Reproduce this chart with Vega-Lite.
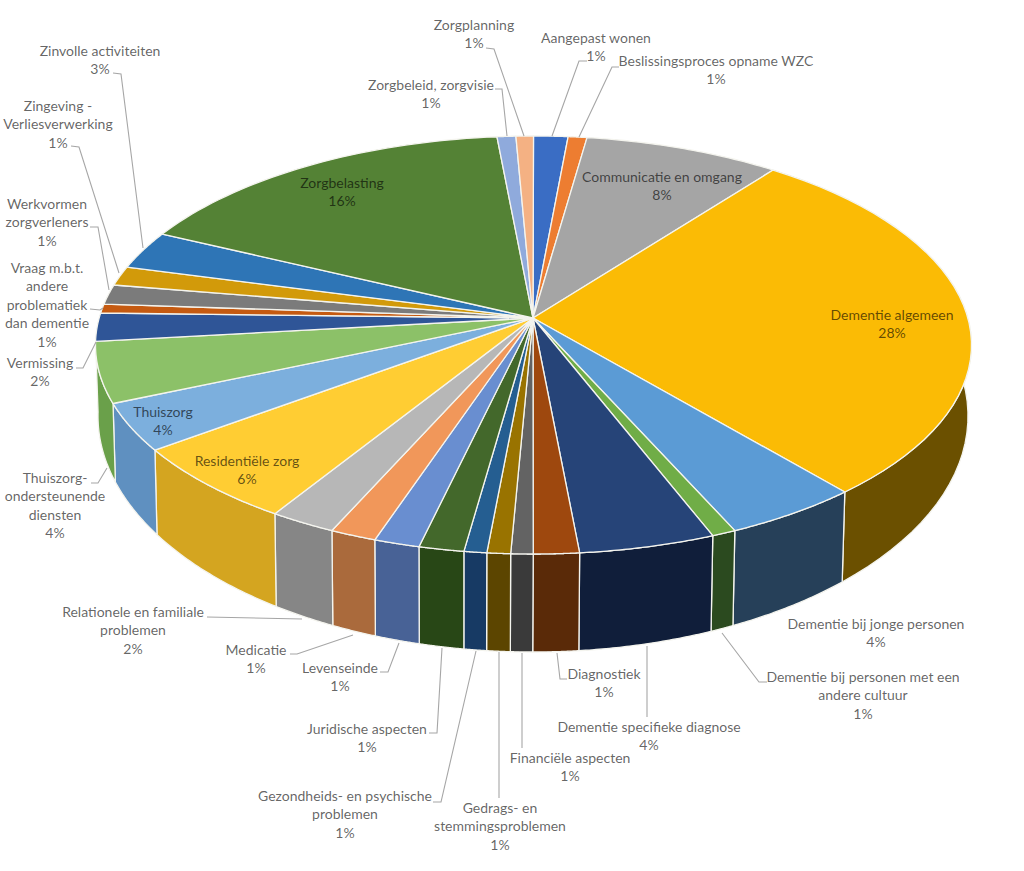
{
"$schema":"https://vega.github.io/schema/vega-lite/v6.json",
"width":1024,"height":871,"padding":0,"autosize":"none",
"background":"white",
"config":{"view":{"stroke":null}},
"datasets":{
"slices":[
{"idx":1,"name":"Aangepast wonen","value":1.26},
{"idx":2,"name":"Beslissingsproces opname WZC","value":0.69},
{"idx":3,"name":"Communicatie en omgang","value":7.26},
{"idx":4,"name":"Dementie algemeen","value":28.2},
{"idx":5,"name":"Dementie bij jonge personen","value":4.98},
{"idx":6,"name":"Dementie bij personen met een andere cultuur","value":0.89},
{"idx":7,"name":"Dementie specifieke diagnose","value":5.03},
{"idx":8,"name":"Diagnostiek","value":1.69},
{"idx":9,"name":"Financiële aspecten","value":0.82},
{"idx":10,"name":"Gedrags- en stemmingsproblemen","value":0.87},
{"idx":11,"name":"Gezondheids- en psychische problemen","value":0.84},
{"idx":12,"name":"Juridische aspecten","value":1.67},
{"idx":13,"name":"Levenseinde","value":1.69},
{"idx":14,"name":"Medicatie","value":1.71},
{"idx":15,"name":"Relationele en familiale problemen","value":2.44},
{"idx":16,"name":"Residentiële zorg","value":6.56},
{"idx":17,"name":"Thuiszorg","value":3.87},
{"idx":18,"name":"Thuiszorg-ondersteunende diensten","value":4.79},
{"idx":19,"name":"Vermissing","value":2.17},
{"idx":20,"name":"Vraag m.b.t. andere problematiek dan dementie","value":0.69},
{"idx":21,"name":"Werkvormen zorgverleners","value":1.5},
{"idx":22,"name":"Zingeving - Verliesverwerking","value":1.44},
{"idx":23,"name":"Zinvolle activiteiten","value":2.83},
{"idx":24,"name":"Zorgbelasting","value":14.76},
{"idx":25,"name":"Zorgbeleid, zorgvisie","value":0.69},
{"idx":26,"name":"Zorgplanning","value":0.64}
],
"labels":[
{"text":"Aangepast wonen\n1%","x":596,"y":43},
{"text":"Beslissingsproces opname WZC\n1%","x":716,"y":66},
{"text":"Communicatie en omgang\n8%","x":662,"y":182},
{"text":"Dementie algemeen\n28%","x":892,"y":320},
{"text":"Dementie bij jonge personen\n4%","x":876,"y":629},
{"text":"Dementie bij personen met een\nandere cultuur\n1%","x":863,"y":682},
{"text":"Dementie specifieke diagnose\n4%","x":649,"y":732},
{"text":"Diagnostiek\n1%","x":604,"y":679},
{"text":"Financiële aspecten\n1%","x":570,"y":763},
{"text":"Gedrags- en\nstemmingsproblemen\n1%","x":500,"y":813},
{"text":"Gezondheids- en psychische\nproblemen\n1%","x":345,"y":801},
{"text":"Juridische aspecten\n1%","x":367,"y":734},
{"text":"Levenseinde\n1%","x":340,"y":673},
{"text":"Medicatie\n1%","x":256,"y":655},
{"text":"Relationele en familiale\nproblemen\n2%","x":133,"y":617},
{"text":"Residentiële zorg\n6%","x":247,"y":466},
{"text":"Thuiszorg\n4%","x":163,"y":417},
{"text":"Thuiszorg-\nondersteunende\ndiensten\n4%","x":55,"y":483},
{"text":"Vermissing\n2%","x":40,"y":368},
{"text":"Vraag m.b.t.\nandere\nproblematiek\ndan dementie\n1%","x":47,"y":273},
{"text":"Werkvormen\nzorgverleners\n1%","x":47,"y":209},
{"text":"Zingeving -\nVerliesverwerking\n1%","x":58,"y":111},
{"text":"Zinvolle activiteiten\n3%","x":100,"y":56},
{"text":"Zorgbelasting\n16%","x":342,"y":188},
{"text":"Zorgbeleid, zorgvisie\n1%","x":431,"y":90},
{"text":"Zorgplanning\n1%","x":474,"y":30}
],
"leaders":[
{"s":"a","o":1,"x":113,"y":73},{"s":"a","o":2,"x":121,"y":74},{"s":"a","o":3,"x":143,"y":248},
{"s":"b","o":1,"x":71,"y":146},{"s":"b","o":2,"x":79,"y":147},{"s":"b","o":3,"x":119,"y":273},
{"s":"c","o":1,"x":90,"y":227},{"s":"c","o":2,"x":98,"y":227},{"s":"c","o":3,"x":109,"y":290},
{"s":"d","o":1,"x":90,"y":309},{"s":"d","o":2,"x":100,"y":310},{"s":"d","o":3,"x":103,"y":308},
{"s":"e","o":1,"x":76,"y":368},{"s":"e","o":2,"x":83,"y":368},{"s":"e","o":3,"x":96,"y":342},
{"s":"f","o":1,"x":91,"y":483},{"s":"f","o":2,"x":98,"y":483},{"s":"f","o":3,"x":107,"y":468},
{"s":"g","o":1,"x":207,"y":617},{"s":"g","o":2,"x":302,"y":619},
{"s":"h","o":1,"x":290,"y":654},{"s":"h","o":2,"x":297,"y":654},{"s":"h","o":3,"x":353,"y":635},
{"s":"i","o":1,"x":380,"y":672},{"s":"i","o":2,"x":388,"y":672},{"s":"i","o":3,"x":399,"y":643},
{"s":"j","o":1,"x":429,"y":733},{"s":"j","o":2,"x":437,"y":733},{"s":"j","o":3,"x":442,"y":648},
{"s":"k","o":1,"x":433,"y":802},{"s":"k","o":2,"x":441,"y":802},{"s":"k","o":3,"x":476,"y":651},
{"s":"l","o":1,"x":499,"y":798},{"s":"l","o":2,"x":499,"y":652},
{"s":"m","o":1,"x":522,"y":748},{"s":"m","o":2,"x":522,"y":653},
{"s":"n","o":1,"x":567,"y":679},{"s":"n","o":2,"x":560,"y":679},{"s":"n","o":3,"x":557,"y":653},
{"s":"p","o":1,"x":647,"y":717},{"s":"p","o":2,"x":647,"y":646},
{"s":"q","o":1,"x":767,"y":682},{"s":"q","o":2,"x":759,"y":682},{"s":"q","o":3,"x":722,"y":633},
{"s":"r","o":1,"x":619,"y":67},{"s":"r","o":2,"x":612,"y":67},{"s":"r","o":3,"x":579,"y":137},
{"s":"t","o":1,"x":587,"y":61},{"s":"t","o":2,"x":579,"y":61},{"s":"t","o":3,"x":552,"y":136},
{"s":"u","o":1,"x":486,"y":48},{"s":"u","o":2,"x":494,"y":49},{"s":"u","o":3,"x":524,"y":136},
{"s":"v","o":1,"x":495,"y":89},{"s":"v","o":2,"x":502,"y":89},{"s":"v","o":3,"x":507,"y":136}
]
},
"layer":[
{
"data":{"name":"slices"},
"transform":[
{"joinaggregate":[{"op":"sum","field":"value","as":"total"}]},
{"window":[{"op":"sum","field":"value","as":"cum"}],"sort":[{"field":"idx"}]},
{"filter":"datum.cum/datum.total>0.2 && (datum.cum-datum.value)/datum.total<0.75"},
{"calculate":"sequence(0,84)","as":"k"},
{"flatten":["k"]},
{"calculate":"datum.k<=41 ? datum.k/40 : (82-datum.k)/40","as":"f"},
{"calculate":"2*PI*(datum.cum-datum.value+datum.value*min(datum.f,1))/datum.total","as":"u"},
{"calculate":"datum.k<=40 ? 533.5+438*sin(datum.u) : (datum.k>=83 ? 533.5+438*sin(2*PI*(datum.cum-datum.value)/datum.total) : 533+435*sin(datum.u))","as":"px"},
{"calculate":"datum.k<=40 ? 345-209*cos(datum.u) : (datum.k>=83 ? 345-209*cos(2*PI*(datum.cum-datum.value)/datum.total) : 416-236*cos(datum.u))","as":"py"}
],
"mark":{"type":"line","filled":true,"stroke":"#f4f4ee","strokeWidth":1.3,"strokeJoin":"round"},
"encoding":{
"x":{"field":"px","type":"quantitative","scale":{"domain":[0,1024],"nice":false,"zero":false},"axis":null},
"y":{"field":"py","type":"quantitative","scale":{"domain":[871,0],"nice":false,"zero":false},"axis":null},
"order":{"field":"k","type":"quantitative"},
"color":{"field":"name","type":"nominal","legend":null,"scale":{"domain":["Dementie algemeen","Dementie bij jonge personen","Dementie bij personen met een andere cultuur","Dementie specifieke diagnose","Diagnostiek","Financiële aspecten","Gedrags- en stemmingsproblemen","Gezondheids- en psychische problemen","Juridische aspecten","Levenseinde","Medicatie","Relationele en familiale problemen","Residentiële zorg","Thuiszorg","Thuiszorg-ondersteunende diensten"],"range":["#6b5000","#264059","#2b4a1f","#101e3a","#5a2a08","#3a3a3a","#5c4500","#173a64","#284716","#486296","#aa6a3c","#868686","#d4a520","#5f90c0","#6aa04a"]}}
}
},
{
"data":{"name":"slices"},
"transform":[
{"joinaggregate":[{"op":"sum","field":"value","as":"total"}]},
{"window":[{"op":"sum","field":"value","as":"cum"}],"sort":[{"field":"idx"}]},
{"calculate":"sequence(0,43)","as":"k"},
{"flatten":["k"]},
{"calculate":"clamp((datum.k-1)/40,0,1)","as":"f"},
{"calculate":"2*PI*(datum.cum-datum.value+datum.value*datum.f)/datum.total","as":"u"},
{"calculate":"(datum.k==0||datum.k==42) ? 533 : 533.5+438*sin(datum.u)","as":"px"},
{"calculate":"(datum.k==0||datum.k==42) ? 318 : 345-209*cos(datum.u)","as":"py"},
{"filter":"datum.k<=42"}
],
"mark":{"type":"line","filled":true,"stroke":"#f4f4ee","strokeWidth":1.3,"strokeJoin":"round"},
"encoding":{
"x":{"field":"px","type":"quantitative","scale":{"domain":[0,1024],"nice":false,"zero":false},"axis":null},
"y":{"field":"py","type":"quantitative","scale":{"domain":[871,0],"nice":false,"zero":false},"axis":null},
"order":{"field":"k","type":"quantitative"},
"color":{"field":"name","type":"nominal","legend":null,"scale":{"domain":["Aangepast wonen","Beslissingsproces opname WZC","Communicatie en omgang","Dementie algemeen","Dementie bij jonge personen","Dementie bij personen met een andere cultuur","Dementie specifieke diagnose","Diagnostiek","Financiële aspecten","Gedrags- en stemmingsproblemen","Gezondheids- en psychische problemen","Juridische aspecten","Levenseinde","Medicatie","Relationele en familiale problemen","Residentiële zorg","Thuiszorg","Thuiszorg-ondersteunende diensten","Vermissing","Vraag m.b.t. andere problematiek dan dementie","Werkvormen zorgverleners","Zingeving - Verliesverwerking","Zinvolle activiteiten","Zorgbelasting","Zorgbeleid, zorgvisie","Zorgplanning"],"range":["#3a6dc4","#ed7d31","#a5a5a5","#fbbb05","#5b9bd5","#70ad47","#264478","#9e480e","#636363","#997300","#255e91","#43682b","#698ed0","#f1975a","#b7b7b7","#ffcd33","#7cafdd","#8cc168","#2f5597","#c55a11","#7b7b7b","#d29a0a","#2e75b6","#548235","#8faadc","#f4b183"]}}
}
},
{
"data":{"name":"leaders"},
"mark":{"type":"line","stroke":"#a6a6a6","strokeWidth":1.1},
"encoding":{
"x":{"field":"x","type":"quantitative","scale":{"domain":[0,1024],"nice":false,"zero":false},"axis":null},
"y":{"field":"y","type":"quantitative","scale":{"domain":[871,0],"nice":false,"zero":false},"axis":null},
"detail":{"field":"s"},
"order":{"field":"o","type":"quantitative"}
}
},
{
"data":{"name":"labels"},
"mark":{"type":"text","font":"Lato","fontSize":14,"lineBreak":"\n","lineHeight":18.4,"align":"center","baseline":"alphabetic","fill":"#000000","fillOpacity":0.62},
"encoding":{
"x":{"field":"x","type":"quantitative","scale":{"domain":[0,1024],"nice":false,"zero":false},"axis":null},
"y":{"field":"y","type":"quantitative","scale":{"domain":[871,0],"nice":false,"zero":false},"axis":null},
"text":{"field":"text"}
}
}
],
"resolve":{"scale":{"color":"independent"}}
}
